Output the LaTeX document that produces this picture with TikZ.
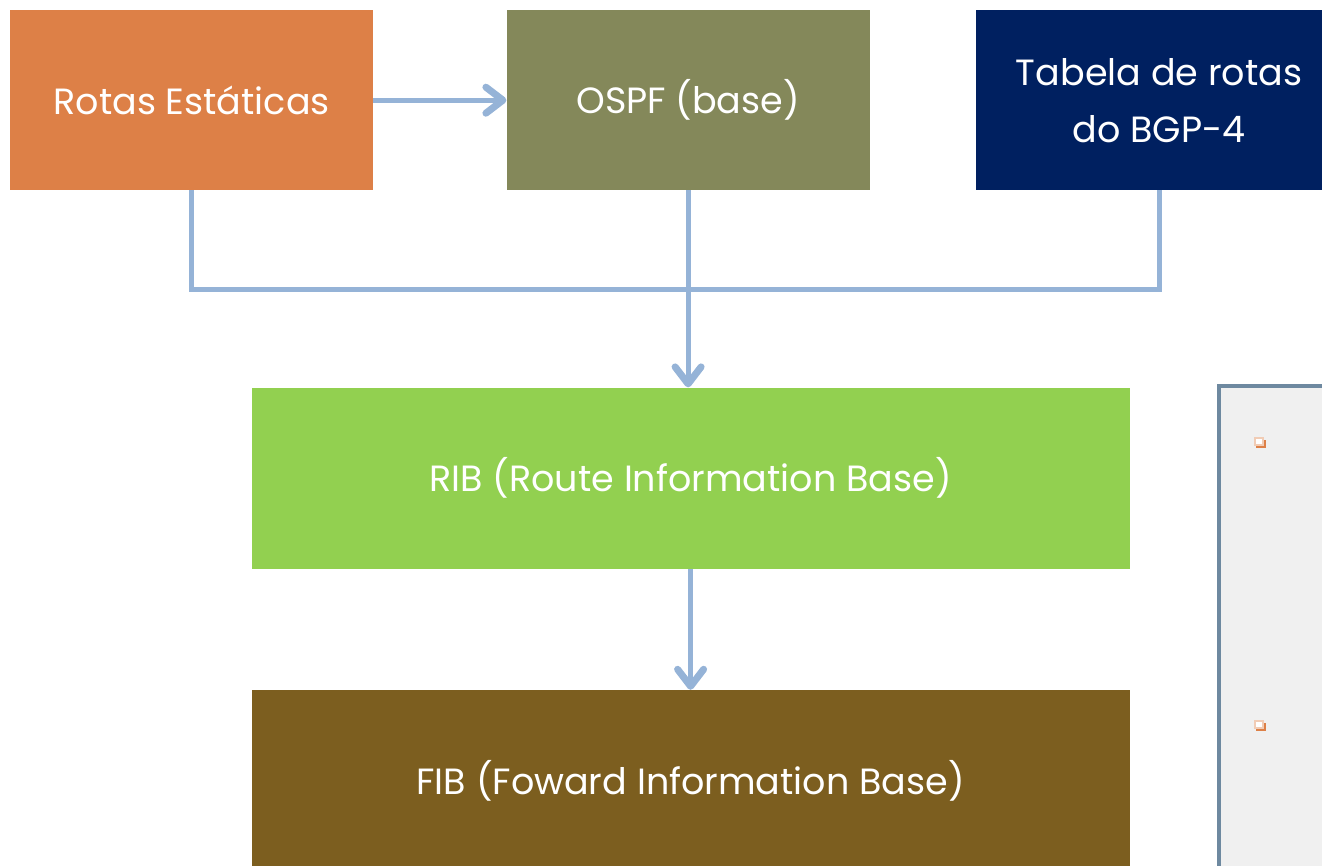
\documentclass[tikz,border=0pt]{standalone}
\usepackage{fontspec}
\setmainfont{Poppins}
\usepackage{xcolor}
\usetikzlibrary{positioning,arrows.meta}

\definecolor{rotasorange}{HTML}{DD8047}
\definecolor{ospfolive}{HTML}{84885A}
\definecolor{bgpnavy}{HTML}{002060}
\definecolor{ribgreen}{HTML}{92D050}
\definecolor{fibbrown}{HTML}{7C5E1F}
\definecolor{linkblue}{HTML}{95B3D7}
\definecolor{panelgray}{HTML}{F0F0F0}
\definecolor{paneledge}{HTML}{6E89A0}

\begin{document}
\begin{tikzpicture}[
    x=1pt, y=-1pt,
    box/.style={minimum width=363pt, minimum height=180pt, inner sep=0pt, align=center,
      text=white, font=\fontsize{36.5}{57}\selectfont},
    wide/.style={box, minimum width=878pt, minimum height=181pt},
    arr/.style={-{Straight Barb[length=17pt,width=26pt,line width=7pt,round]}, line width=5pt, linkblue},
    link/.style={line width=5pt, linkblue}
  ]
    \useasboundingbox (0,0) rectangle (1322,866);
    \clip (0,0) rectangle (1322,866);

    % side panel
    \fill[panelgray] (1219,386) rectangle (1330,870);
    \draw[paneledge, line width=4.5pt] (1219,870) -- (1219,386) -- (1330,386);
    \foreach \y in {442,725} {
      \fill[rotasorange] (1256,\y-2) rectangle (1266,\y+6);
      \fill[rotasorange!40] (1254,\y-5) rectangle (1264,\y+4);
      \fill[white] (1256,\y-3) rectangle (1262,\y+2);
    }

    % route sources
    \node[box, fill=rotasorange, anchor=north west] (rotas) at (10,10) {Rotas Estáticas};
    \node[box, fill=ospfolive, right=133pt of rotas] (ospf) {OSPF (base)};
    \node[box, fill=bgpnavy, minimum width=366pt, right=106pt of ospf] (bgp) {Tabela de rotas\\do BGP-4};

    % tables
    \node[wide, fill=ribgreen, below=197pt of ospf, xshift=2.5pt] (rib) {RIB (Route Information Base)};
    \node[wide, fill=fibbrown, below=121pt of rib] (fib) {FIB (Foward Information Base)};

    \coordinate (join) at ([yshift=-99pt]ospf.south);

    \draw[arr] (rotas) -- (ospf);
    \draw[link] (rotas.south) |- (join) -| (bgp.south);
    \draw[arr] (ospf.south) -- (ospf.south |- rib.north);
    \draw[arr] (rib.south) -- (fib.north);
  \end{tikzpicture}
\end{document}
